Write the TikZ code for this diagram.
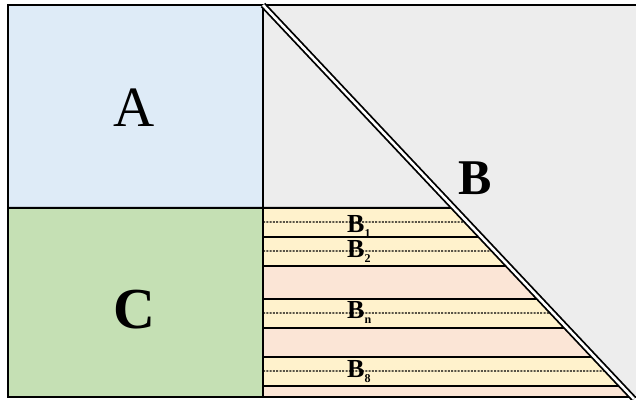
\documentclass[tikz,border=0pt]{standalone}
\usepackage{fontspec}
\setmainfont{Liberation Serif}
\usetikzlibrary{calc}
\definecolor{cA}{HTML}{DEEBF7}
\definecolor{cC}{HTML}{C5E0B4}
\definecolor{cG}{HTML}{EDEDED}
\definecolor{cY}{HTML}{FFF2CC}
\definecolor{cP}{HTML}{FBE5D6}
\tikzset{
  frame/.style={line width=2pt, black},
  stripeline/.style={line width=1.8pt, black},
  dashline/.style={line width=1.1pt, black, dash pattern=on 2pt off 1.3pt},
  blabel/.style={anchor=base west, inner sep=0pt, font=\fontsize{26}{26}\selectfont\bfseries}
}
\newcommand{\subl}[1]{\raisebox{-5pt}{\fontsize{12}{12}\selectfont\bfseries #1}}
\begin{document}
\begin{tikzpicture}[x=1pt,y=1pt]
\useasboundingbox (0,0) rectangle (636,399);
\coordinate (T) at (263,394);
\coordinate (E) at (634,0);
% regions
\fill[cG] (263,394) rectangle (636,2);
\fill[cA] (8,394) rectangle (263,191);
\fill[cC] (8,191) rectangle (263,2);
% stripes
\foreach \ya/\yb/\col in {191/162/cY,162/133/cY,133/100/cP,100/71/cY,71/42/cP,42/13/cY,13/2/cP}{
  \fill[\col] (263,\ya) -- ($(T)!{(394-\ya)/394}!(E)$) -- ($(T)!{(394-\yb)/394}!(E)$) -- (263,\yb) -- cycle;
}
\foreach \ya in {162,133,100,71,42,13}{
  \draw[stripeline] (263,\ya) -- ($(T)!{(394-\ya)/394}!(E)$);
}
\foreach \ya in {177,148,86,28}{
  \draw[dashline] (263,\ya) -- ($(T)!{(394-\ya)/394}!(E)$);
}
% frame and dividers
\draw[frame] (636,394) -- (8,394) -- (8,2) -- (636,2);
\draw[frame] (263,394) -- (263,2);
\draw[frame] (8,191) -- ($(T)!{203/394}!(E)$);
% diagonal double line
\draw[line width=1.8pt, double=white, double distance=2.6pt] (T) -- (E);
% labels
\node[font=\fontsize{57}{57}\selectfont] (A) at (134,291) {A};
\node[font=\fontsize{58}{58}\selectfont\bfseries] (C) at (134,89) {C};
\node[font=\fontsize{50}{50}\selectfont\bfseries] (B) at (475,221) {B};
\node[blabel] (B1) at (347,167) {B\subl{1}};
\node[blabel] (B2) at (347,142) {B\subl{2}};
\node[blabel] (Bn) at (347,81) {B\subl{n}};
\node[blabel] (B8) at (347,22) {B\subl{8}};
\end{tikzpicture}
\end{document}
